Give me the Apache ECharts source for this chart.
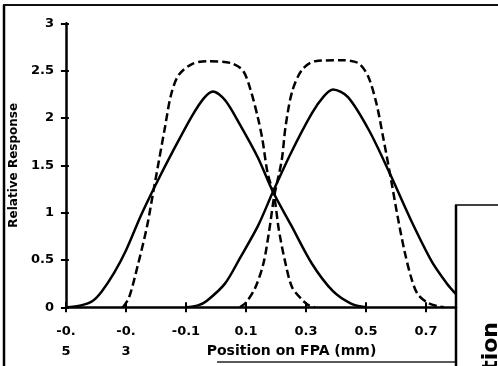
<!DOCTYPE html>
<html>
<head>
<meta charset="utf-8">
<script src="https://cdn.jsdelivr.net/npm/echarts@6/dist/echarts.min.js"></script>
<style>
  html, body { margin: 0; padding: 0; background: #fff; }
  #chart { width: 498px; height: 366px; }
</style>
</head>
<body>
<div id="chart"></div>
<script>
// Tick positions and their printed labels on the position axis
const xTickValues = [-0.5, -0.3, -0.1, 0.1, 0.3, 0.5, 0.7];
const xTickLabels = ['-0.\n5', '-0.\n3', '-0.1', '0.1', '0.3', '0.5', '0.7'];
const yTickLabels = ['0', '0.5', '1', '1.5', '2', '2.5', '3'];

// Response of the first detector: [position (mm), relative response]
const solidLeft = [
  [-0.5, 0], [-0.45, 0.02], [-0.41, 0.07], [-0.38, 0.17], [-0.34, 0.36],
  [-0.30, 0.6], [-0.25, 0.97], [-0.20, 1.3], [-0.14, 1.67], [-0.08, 2.02],
  [-0.04, 2.21], [-0.01, 2.28], [0.03, 2.19], [0.08, 1.93], [0.14, 1.58],
  [0.19, 1.22], [0.25, 0.87], [0.32, 0.46], [0.39, 0.17], [0.45, 0.04],
  [0.5, 0]
];
// Response of the second detector
const solidRight = [
  [-0.1, 0], [-0.06, 0.02], [-0.03, 0.07], [0.03, 0.25], [0.08, 0.52],
  [0.14, 0.86], [0.19, 1.22], [0.25, 1.63], [0.32, 2.05], [0.36, 2.23],
  [0.39, 2.3], [0.44, 2.22], [0.51, 1.87], [0.58, 1.41], [0.65, 0.92],
  [0.72, 0.48], [0.77, 0.25], [0.8, 0.14]
];
// Sharper (dashed) responses
const dashedLeft = [
  [-0.31, 0], [-0.29, 0.1], [-0.26, 0.45], [-0.23, 0.85], [-0.21, 1.2],
  [-0.19, 1.55], [-0.17, 1.9], [-0.15, 2.24], [-0.125, 2.45], [-0.08, 2.57],
  [-0.03, 2.6], [0.05, 2.58], [0.09, 2.5], [0.115, 2.3], [0.14, 2.0],
  [0.155, 1.77], [0.172, 1.42], [0.194, 1.17], [0.21, 0.81], [0.232, 0.46],
  [0.254, 0.21], [0.287, 0.08], [0.31, 0.02], [0.33, 0]
];
const dashedRight = [
  [0.08, 0], [0.1, 0.05], [0.13, 0.2], [0.158, 0.46], [0.177, 0.8],
  [0.194, 1.17], [0.219, 1.55], [0.232, 1.91], [0.254, 2.28], [0.287, 2.51],
  [0.331, 2.6], [0.42, 2.61], [0.474, 2.58], [0.507, 2.44], [0.535, 2.15],
  [0.557, 1.8], [0.584, 1.34], [0.606, 0.95], [0.628, 0.6], [0.65, 0.32],
  [0.672, 0.14], [0.705, 0.05], [0.74, 0.01], [0.76, 0]
];

const FONT = 'DejaVu Sans';
const chart = echarts.init(document.getElementById('chart'), null, { renderer: 'canvas' });

const solidStyle = { color: '#000', width: 2.5, type: 'solid' };
const dashStyle = { color: '#000', width: 2.5, type: [8, 4] };

function curve(data, style) {
  return {
    type: 'line',
    data: data,
    xAxisIndex: 0,
    yAxisIndex: 0,
    showSymbol: false,
    smooth: 0.3,
    lineStyle: style,
    z: 3,
    silent: true
  };
}

const xBase = {
  type: 'value',
  min: -0.5,
  max: 0.8,
  splitLine: { show: false }
};
const yBase = {
  type: 'value',
  min: 0,
  max: 3,
  interval: 0.5,
  splitLine: { show: false }
};

chart.setOption({
  animation: false,
  backgroundColor: '#fff',
  grid: { left: 60, right: 42, top: 23.3, bottom: 58.7, containLabel: false },
  xAxis: [
    Object.assign({}, xBase, {
      position: 'bottom',
      axisLine: { show: true, onZero: false, lineStyle: { color: '#000', width: 2.5 } },
      axisTick: { show: true, inside: false, length: 5, customValues: xTickValues,
                  lineStyle: { color: '#000', width: 2 } },
      axisLabel: {
        show: true,
        customValues: xTickValues,
        formatter: function (v) {
          const i = xTickValues.findIndex(function (t) { return Math.abs(t - v) < 1e-6; });
          return i >= 0 ? xTickLabels[i] : '';
        },
        margin: 14,
        lineHeight: 20,
        color: '#000',
        fontFamily: FONT,
        fontWeight: 'bold',
        fontSize: 13
      }
    }),
    Object.assign({}, xBase, {
      position: 'bottom',
      axisLine: { show: false, onZero: false },
      axisTick: { show: true, inside: true, length: 5, customValues: xTickValues,
                  lineStyle: { color: '#000', width: 2 } },
      axisLabel: { show: false }
    })
  ],
  yAxis: [
    Object.assign({}, yBase, {
      position: 'left',
      name: 'Relative Response',
      nameLocation: 'middle',
      nameGap: 42,
      nameRotate: 90,
      nameTextStyle: { color: '#000', fontFamily: FONT, fontWeight: 'bold', fontSize: 12 },
      axisLine: { show: true, onZero: false, lineStyle: { color: '#000', width: 2.5 } },
      axisTick: { show: true, inside: false, length: 5, lineStyle: { color: '#000', width: 2 } },
      axisLabel: {
        show: true,
        margin: 12,
        color: '#000',
        fontFamily: FONT,
        fontWeight: 'bold',
        fontSize: 13,
        formatter: function (v) {
          const i = Math.round(v / 0.5);
          return yTickLabels[i] !== undefined ? yTickLabels[i] : '';
        }
      }
    }),
    Object.assign({}, yBase, {
      position: 'left',
      axisLine: { show: false, onZero: false },
      axisTick: { show: true, inside: true, length: 3, lineStyle: { color: '#000', width: 2 } },
      axisLabel: { show: false }
    })
  ],
  graphic: [
    // page frame
    { type: 'line', shape: { x1: 4, y1: 5, x2: 4, y2: 366 }, style: { stroke: '#000', lineWidth: 2.5 } },
    { type: 'line', shape: { x1: 3, y1: 5, x2: 498, y2: 5 }, style: { stroke: '#111', lineWidth: 1.8 } },
    { type: 'line', shape: { x1: 217, y1: 362, x2: 456, y2: 362 }, style: { stroke: '#222', lineWidth: 1.5 } },
    // adjoining panel
    { type: 'line', shape: { x1: 456, y1: 205, x2: 456, y2: 366 }, style: { stroke: '#000', lineWidth: 2.5 } },
    { type: 'line', shape: { x1: 455, y1: 205, x2: 498, y2: 205 }, style: { stroke: '#000', lineWidth: 1.5 } },
    {
      type: 'text', x: 502, y: 322, rotation: Math.PI / 2,
      style: { text: 'tion', align: 'right', verticalAlign: 'bottom',
               font: 'bold 22px "DejaVu Sans"', fill: '#000' }
    },
    // x axis title
    {
      type: 'text', x: 291.5, y: 351,
      style: { text: 'Position on FPA (mm)', align: 'center', verticalAlign: 'middle',
               font: 'bold 14px "DejaVu Sans"', fill: '#000' }
    }
  ],
  series: [
    curve(dashedLeft, dashStyle),
    curve(dashedRight, dashStyle),
    curve(solidLeft, solidStyle),
    curve(solidRight, solidStyle)
  ]
});
</script>
</body>
</html>
